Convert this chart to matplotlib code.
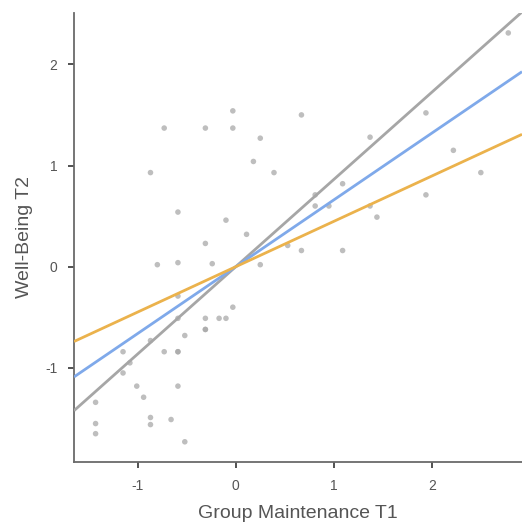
import numpy as np
import matplotlib
matplotlib.use('Agg')
import matplotlib.pyplot as plt

plt.rcParams['font.family'] = ['Liberation Sans', 'DejaVu Sans']
plt.rcParams['axes.unicode_minus'] = False

# scatter points (Group Maintenance T1, Well-Being T2)
gm_t1 = [2.78, -0.03, -0.73, -0.31, -0.03, 0.25, 0.67, 1.37, 1.94, 2.22,
         0.18, -0.87, 0.39, 2.50, 1.09, 0.81, 0.81, 0.95, 1.37, 1.44,
         1.94, -0.59, -0.10, 0.11, -0.31, 0.53, 0.67, 1.09, -0.80, -0.59,
         -0.24, 0.25, -0.59, -0.03, -0.59, -0.31, -0.17, -0.10, -0.31, -0.31,
         -0.52, -0.87, -1.15, -0.73, -0.59, -0.59, -1.08, -1.15, -1.01, -0.59,
         -0.94, -1.43, -0.87, -0.66, -0.87, -1.43, -1.43, -0.52]
wb_t2 = [2.31, 1.54, 1.37, 1.37, 1.37, 1.27, 1.50, 1.28, 1.52, 1.15,
         1.04, 0.93, 0.93, 0.93, 0.82, 0.71, 0.60, 0.60, 0.60, 0.49,
         0.71, 0.54, 0.46, 0.32, 0.23, 0.21, 0.16, 0.16, 0.02, 0.04,
         0.03, 0.02, -0.29, -0.40, -0.51, -0.51, -0.51, -0.51, -0.62, -0.62,
         -0.68, -0.73, -0.84, -0.84, -0.84, -0.84, -0.95, -1.05, -1.18, -1.18,
         -1.29, -1.34, -1.49, -1.51, -1.56, -1.55, -1.65, -1.73]

# simple slopes (all lines pass through the origin)
line_names = ['high', 'mean', 'low']
line_slopes = [0.862, 0.66, 0.448]
line_colors = ['#a6a6a6', '#7fa9ea', '#ebb24c']

fig = plt.figure(figsize=(5.22, 5.27), dpi=100)
ax = fig.add_axes([0.1418, 0.1233, 0.8582, 0.8526])

ax.scatter(gm_t1, wb_t2, s=16, color='#a8a8a8', alpha=0.75, edgecolors='none', zorder=2)

xx = np.array([-1.65, 2.92])
for name, b, c in zip(line_names, line_slopes, line_colors):
    ax.plot(xx, b * xx, color=c, lw=2.0, solid_capstyle='butt', zorder=3, label=name)

ax.set_xlim(-1.65, 2.92)
ax.set_ylim(-1.93, 2.51)
ax.set_xticks([-1, 0, 1, 2])
ax.set_yticks([-1, 0, 1, 2])

for s in ['top', 'right']:
    ax.spines[s].set_visible(False)
for s in ['left', 'bottom']:
    ax.spines[s].set_color('#6a6a6a')
    ax.spines[s].set_linewidth(1.3)

ax.tick_params(axis='both', length=4, width=1.2, color='#333333',
               labelsize=10, labelcolor='#555555', pad=8)

ax.set_xlabel('Group Maintenance T1', fontsize=14, color='#555555', labelpad=9)
ax.set_ylabel('Well-Being T2', fontsize=14, color='#555555', labelpad=9)

fig.savefig('out.png', dpi=100)
